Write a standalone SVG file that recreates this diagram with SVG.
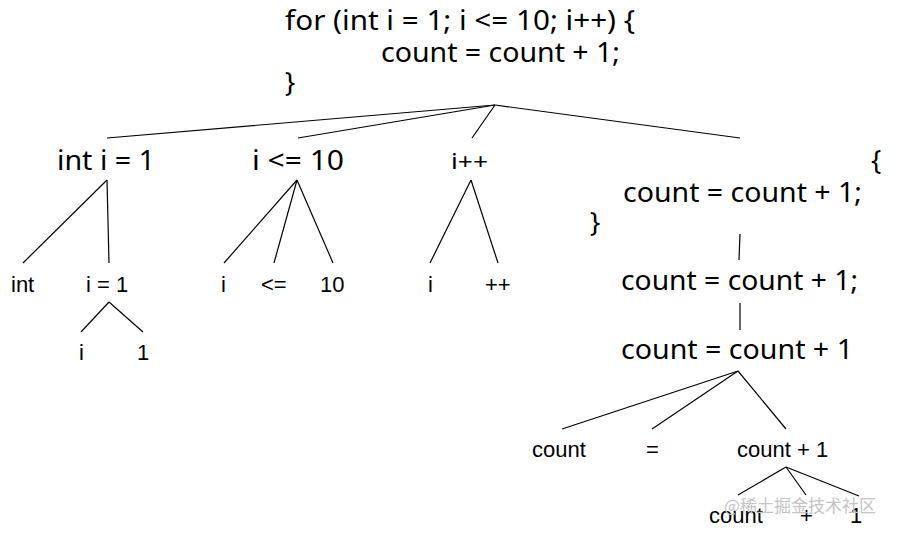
<svg xmlns="http://www.w3.org/2000/svg" width="901" height="535" viewBox="0 0 901 535">
<style>
.code{font-family:"Noto Sans","Open Sans",sans-serif;fill:#000}
.lbl{font-family:"Liberation Sans",Arial,sans-serif;font-size:22px;fill:#000}
.edges line{stroke:#000;stroke-width:1.2}
.wm{font-family:"Noto Sans CJK SC","Noto Sans",sans-serif;font-size:17px;fill:#c4c4c4}
</style>
<rect width="901" height="535" fill="#fff"/>
<g id="root">
<text class="code" x="285" y="30" font-size="27" textLength="350" lengthAdjust="spacingAndGlyphs">for (int i = 1; i &lt;= 10; i++) {</text>
<text class="code" x="381" y="62" font-size="27" textLength="239" lengthAdjust="spacingAndGlyphs">count = count + 1;</text>
<text class="code" x="285" y="92" font-size="27">}</text>
</g>
<g id="init"><text class="code" x="57" y="170" font-size="28" textLength="98" lengthAdjust="spacingAndGlyphs">int i = 1</text></g>
<g id="cond"><text class="code" x="252" y="170" font-size="28" textLength="92" lengthAdjust="spacingAndGlyphs">i &lt;= 10</text></g>
<g id="incr"><text class="code" x="451" y="169" font-size="21" textLength="37" lengthAdjust="spacingAndGlyphs">i++</text></g>
<g id="body">
<text class="code" x="871" y="170" font-size="27">{</text>
<text class="code" x="623" y="202" font-size="28" textLength="239" lengthAdjust="spacingAndGlyphs">count = count + 1;</text>
<text class="code" x="590" y="232" font-size="27">}</text>
</g>
<g id="stmt"><text class="code" x="621" y="290" font-size="28" textLength="237" lengthAdjust="spacingAndGlyphs">count = count + 1;</text></g>
<g id="expr"><text class="code" x="621" y="359" font-size="28" textLength="232" lengthAdjust="spacingAndGlyphs">count = count + 1</text></g>
<g id="n-int"><text class="lbl" x="11" y="292">int</text></g>
<g id="n-i1"><text class="lbl" x="86" y="292">i = 1</text></g>
<g id="n-i"><text class="lbl" x="79" y="360">i</text></g>
<g id="n-1"><text class="lbl" x="137" y="360">1</text></g>
<g id="n-ci"><text class="lbl" x="221" y="292">i</text></g>
<g id="n-le"><text class="lbl" x="261" y="292">&lt;=</text></g>
<g id="n-10"><text class="lbl" x="320" y="292">10</text></g>
<g id="n-ii"><text class="lbl" x="428" y="292">i</text></g>
<g id="n-pp"><text class="lbl" x="485" y="292">++</text></g>
<g id="n-count"><text class="lbl" x="532" y="457">count</text></g>
<g id="n-eq"><text class="lbl" x="646" y="457">=</text></g>
<g id="n-cp1"><text class="lbl" x="737" y="457">count + 1</text></g>
<g id="n-count2"><text class="lbl" x="709" y="523">count</text></g>
<g id="n-plus"><text class="lbl" x="800" y="523">+</text></g>
<g id="n-one"><text class="lbl" x="850" y="523">1</text></g>
<g class="edges" id="edges">
<line x1="495" y1="105" x2="107" y2="138"/>
<line x1="495" y1="105" x2="298" y2="138"/>
<line x1="495" y1="105" x2="472" y2="138"/>
<line x1="495" y1="105" x2="740" y2="138"/>
<line x1="107" y1="180" x2="23" y2="263"/>
<line x1="107" y1="180" x2="109" y2="263"/>
<line x1="109" y1="302" x2="81" y2="332"/>
<line x1="109" y1="302" x2="143" y2="332"/>
<line x1="297" y1="180" x2="224" y2="263"/>
<line x1="297" y1="180" x2="274" y2="263"/>
<line x1="297" y1="180" x2="333" y2="263"/>
<line x1="471" y1="180" x2="430" y2="263"/>
<line x1="471" y1="180" x2="498" y2="263"/>
<line x1="740" y1="234" x2="739" y2="260"/>
<line x1="740" y1="303" x2="740" y2="330"/>
<line x1="738" y1="371" x2="562" y2="429"/>
<line x1="738" y1="371" x2="652" y2="429"/>
<line x1="738" y1="371" x2="786" y2="429"/>
<line x1="786" y1="467" x2="738" y2="495"/>
<line x1="786" y1="467" x2="806" y2="495"/>
<line x1="786" y1="467" x2="859" y2="496"/>
</g>
<text class="wm" x="724" y="512">@稀土掘金技术社区</text>
</svg>
